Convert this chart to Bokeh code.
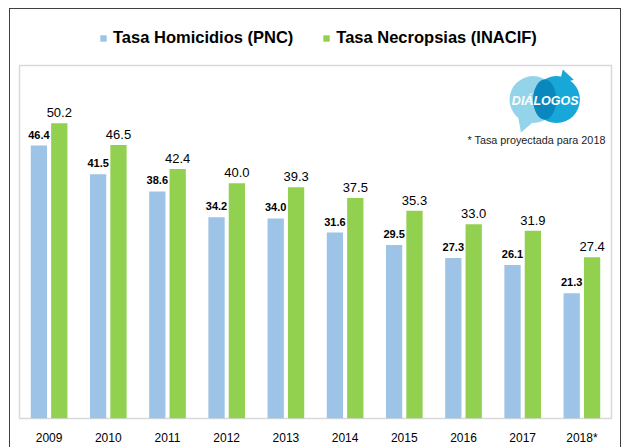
from bokeh.plotting import figure
from bokeh.layouts import column
from bokeh.models import (ColumnDataSource, FactorRange, Range1d, LabelSet, Label,
                          Legend, LegendItem)
from bokeh.transform import dodge
from bokeh.core.properties import value
from bokeh.embed import file_html
from bokeh.resources import INLINE

years = ["2009", "2010", "2011", "2012", "2013", "2014", "2015", "2016", "2017", "2018*"]
pnc = [46.4, 41.5, 38.6, 34.2, 34.0, 31.6, 29.5, 27.3, 26.1, 21.3]
inacif = [50.2, 46.5, 42.4, 40.0, 39.3, 37.5, 35.3, 33.0, 31.9, 27.4]
series_names = ["Tasa Homicidios (PNC)", "Tasa Necropsias (INACIF)"]
note = "* Tasa proyectada para 2018"
logo_text = "DIÁLOGOS"

BLUE = "#9DC3E6"
GREEN = "#92D050"
FONT = "Liberation Sans"

src = ColumnDataSource(dict(
    year=years, pnc=pnc, inacif=inacif,
    pnc_lbl=[f"{v:.1f}" for v in pnc],
    inacif_lbl=[f"{v:.1f}" for v in inacif],
))

# ---- legend strip ----
lf = figure(width=610, height=55, x_range=Range1d(0, 1), y_range=Range1d(0, 1),
            output_backend="svg", toolbar_location=None,
            min_border_left=0, min_border_right=0, min_border_top=0, min_border_bottom=0)
lf.axis.visible = False
lf.grid.visible = False
lf.outline_line_color = None
lf.background_fill_color = "white"
lf.border_fill_color = "white"
proxy = ColumnDataSource(dict(x=[-5], top=[0]))  # off-view proxy, legend swatches only
g1 = lf.vbar(x="x", top="top", width=0.1, source=proxy, fill_color=BLUE, line_color=None)
g2 = lf.vbar(x="x", top="top", width=0.1, source=proxy, fill_color=GREEN, line_color=None)
legend = Legend(items=[LegendItem(label=series_names[0], renderers=[g1]),
                       LegendItem(label=series_names[1], renderers=[g2])],
                orientation="horizontal", location=(80, 17),
                label_text_font=FONT, label_text_font_size="16.5px",
                label_text_font_style="bold", label_text_color="black",
                glyph_width=8, glyph_height=8,
                label_standoff=6, spacing=29, padding=0, margin=0,
                border_line_color=None, background_fill_alpha=0)
lf.add_layout(legend, "center")

# ---- main chart ----
p = figure(width=610, height=383, x_range=FactorRange(*years, range_padding=0),
           y_range=Range1d(0, 60), output_backend="svg", toolbar_location=None,
           min_border_left=9, min_border_right=9, min_border_top=1,
           min_border_bottom=24)
p.background_fill_color = "white"
p.border_fill_color = "white"
p.outline_line_color = "#D9D9D9"
p.outline_line_width = 1.5
p.grid.visible = False
p.yaxis.visible = False

ax = p.xaxis[0]
ax.axis_line_color = None
ax.major_tick_line_color = None
ax.minor_tick_line_color = None
ax.major_label_standoff = 6
ax.major_label_text_font = FONT
ax.major_label_text_font_size = "12px"
ax.major_label_text_color = "black"

off = 0.172
bw = 0.275
p.vbar(x=dodge("year", -off, range=p.x_range), top="pnc", width=bw, source=src,
       fill_color=BLUE, line_color=None)
p.vbar(x=dodge("year", off, range=p.x_range), top="inacif", width=bw, source=src,
       fill_color=GREEN, line_color=None)

p.add_layout(LabelSet(x=dodge("year", -off, range=p.x_range), y="pnc", text="pnc_lbl",
                      source=src, y_offset=7, text_align="center", text_baseline="bottom",
                      text_font=value(FONT), text_font_size="11px", text_font_style="bold",
                      text_color="black"))
p.add_layout(LabelSet(x=dodge("year", off, range=p.x_range), y="inacif", text="inacif_lbl",
                      source=src, y_offset=6, text_align="center", text_baseline="bottom",
                      text_font=value(FONT), text_font_size="13px",
                      text_color="black"))

# logo (decoration)
LIGHT = "#93D4EA"
TEAL = "#17A7D8"
DARK = "#0A88BE"
p.scatter(x=[8.52], y=[50.0], size=15, marker="triangle", angle=2.8, fill_color=LIGHT, line_color=None)
p.scatter(x=[8.674], y=[54.2], size=47, marker="circle", fill_color=LIGHT, line_color=None)
p.scatter(x=[9.22], y=[57.9], size=15, marker="triangle", angle=0.3, fill_color=TEAL, line_color=None)
p.scatter(x=[9.07], y=[54.2], size=47, marker="circle", fill_color=TEAL, line_color=None)
p.ellipse(x=[8.872], y=[54.2], width=23, height=40, width_units="screen", height_units="screen",
          fill_color=DARK, line_color=None)
p.add_layout(Label(x=8.88, y=54.0, text=logo_text, text_align="center", text_baseline="middle",
                   text_font=FONT, text_font_style="bold italic",
                   text_font_size="12.5px", text_color="white"))
p.add_layout(Label(x=9.9, y=47.3, text=note, text_align="right", text_baseline="middle",
                   text_font=FONT, text_font_size="10.8px", text_color="#222222"))

layout = column(lf, p, spacing=0)
layout.margin = (8, 0, 0, 9)
layout.styles = {"border-left": "1.5px solid #404040", "border-top": "1.5px solid #404040",
                 "border-right": "1.5px solid #404040", "background-color": "white"}

open("out.html", "w").write(file_html(layout, INLINE))
